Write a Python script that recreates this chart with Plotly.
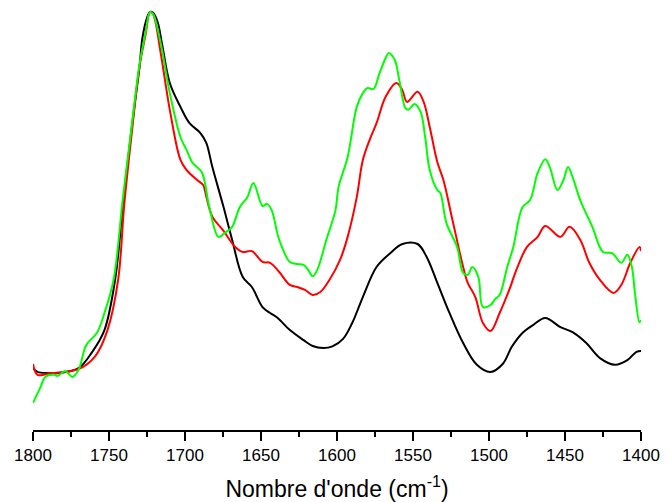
import plotly.graph_objects as go

# Wavenumber (cm-1) and normalized absorbance
black_x = [1800,1797,1790,1784,1770,1761,1753,1746,1741,1736,1733,1730,1728,1725,1723,1721,1718,1715,1710,1703,1697,1690,1686,1682,1675,1669,1662,1656,1649,1644,1639,1631,1622,1616,1609,1603,1596,1590,1583,1574,1565,1557,1547,1541,1534,1526,1517,1508,1499,1491,1485,1478,1471,1463,1453,1445,1436,1427,1417,1409,1403,1400]
black_y = [0.148,0.139,0.136,0.136,0.148,0.187,0.239,0.359,0.533,0.694,0.782,0.866,0.938,0.986,1.000,0.998,0.976,0.921,0.830,0.773,0.734,0.711,0.687,0.629,0.538,0.455,0.366,0.342,0.294,0.280,0.268,0.239,0.215,0.201,0.196,0.200,0.218,0.256,0.318,0.390,0.423,0.445,0.445,0.414,0.352,0.280,0.208,0.156,0.139,0.158,0.199,0.232,0.251,0.268,0.246,0.234,0.208,0.172,0.156,0.167,0.187,0.189]

red_x = [1800,1797,1788,1770,1759,1751,1744,1740,1735,1730,1726,1723,1721,1716,1710,1703,1699,1692,1688,1687,1682,1675,1667,1662,1656,1649,1644,1638,1631,1626,1621,1616,1611,1605,1598,1593,1587,1583,1578,1574,1568,1561,1557,1554,1547,1543,1539,1534,1530,1524,1517,1514,1509,1504,1499,1493,1486,1482,1475,1468,1463,1453,1447,1440,1434,1427,1418,1413,1407,1401,1400]
red_y = [0.158,0.132,0.136,0.146,0.177,0.239,0.359,0.538,0.711,0.868,0.945,1.000,0.995,0.902,0.766,0.646,0.622,0.598,0.586,0.574,0.510,0.478,0.438,0.426,0.428,0.402,0.400,0.378,0.347,0.342,0.335,0.323,0.330,0.359,0.407,0.462,0.557,0.646,0.699,0.734,0.797,0.830,0.813,0.785,0.809,0.785,0.725,0.641,0.598,0.502,0.390,0.352,0.318,0.256,0.237,0.280,0.342,0.383,0.438,0.462,0.488,0.462,0.486,0.455,0.400,0.359,0.328,0.347,0.400,0.438,0.428]

green_x = [1800,1795,1792,1786,1784,1779,1777,1774,1770,1765,1758,1753,1747,1741,1736,1730,1726,1723,1721,1716,1710,1703,1699,1695,1689,1684,1678,1674,1669,1664,1659,1655,1649,1646,1643,1638,1631,1626,1622,1619,1616,1613,1607,1601,1599,1593,1587,1583,1580,1576,1572,1568,1566,1562,1559,1555,1553,1549,1545,1542,1539,1534,1532,1528,1521,1517,1514,1511,1507,1504,1499,1496,1493,1488,1484,1478,1473,1468,1463,1460,1455,1451,1448,1445,1440,1432,1425,1419,1413,1409,1406,1404,1401,1400]
green_y = [0.065,0.103,0.127,0.132,0.129,0.141,0.136,0.127,0.144,0.203,0.232,0.280,0.359,0.550,0.699,0.873,0.950,1.000,0.995,0.926,0.806,0.701,0.670,0.639,0.617,0.533,0.462,0.471,0.486,0.533,0.557,0.591,0.536,0.541,0.526,0.455,0.402,0.397,0.395,0.383,0.368,0.383,0.455,0.526,0.581,0.653,0.773,0.806,0.818,0.816,0.854,0.890,0.902,0.885,0.837,0.770,0.766,0.780,0.761,0.701,0.622,0.574,0.567,0.495,0.438,0.376,0.371,0.390,0.366,0.294,0.299,0.313,0.323,0.390,0.438,0.533,0.550,0.615,0.648,0.629,0.574,0.598,0.629,0.605,0.550,0.486,0.426,0.423,0.400,0.419,0.390,0.328,0.258,0.263]

tick_vals = [1800, 1750, 1700, 1650, 1600, 1550, 1500, 1450, 1400]
tick_text = [str(v) for v in tick_vals]

fig = go.Figure()
for xs, ys, col in [(black_x, black_y, "#000000"),
                    (red_x, red_y, "#ff0000"),
                    (green_x, green_y, "#00ff00")]:
    fig.add_trace(go.Scatter(x=xs, y=ys, mode="lines",
                             line=dict(color=col, width=2, shape="spline", smoothing=1.0),
                             showlegend=False, hoverinfo="skip"))

fig.update_layout(
    width=668, height=502,
    margin=dict(l=33, r=27, t=0, b=72),
    paper_bgcolor="white", plot_bgcolor="white",
    font=dict(family="Liberation Sans, Arial, sans-serif", color="black"),
    xaxis=dict(
        range=[1800, 1400],
        tickvals=tick_vals, ticktext=tick_text,
        ticks="outside", ticklen=9, tickwidth=1.5, tickcolor="black",
        minor=dict(dtick=25, tick0=1800, ticks="outside", ticklen=5, tickwidth=1.5, tickcolor="black"),
        showline=True, linecolor="black", linewidth=1.5,
        showgrid=False, zeroline=False,
        tickfont=dict(size=17),
        automargin=False,
        title=dict(text="Nombre d'onde (cm<sup>-1</sup>)", font=dict(size=23), standoff=17),
    ),
    yaxis=dict(range=[0, 1.0287], visible=False, showgrid=False, zeroline=False),
)

fig.write_html("out.html")
